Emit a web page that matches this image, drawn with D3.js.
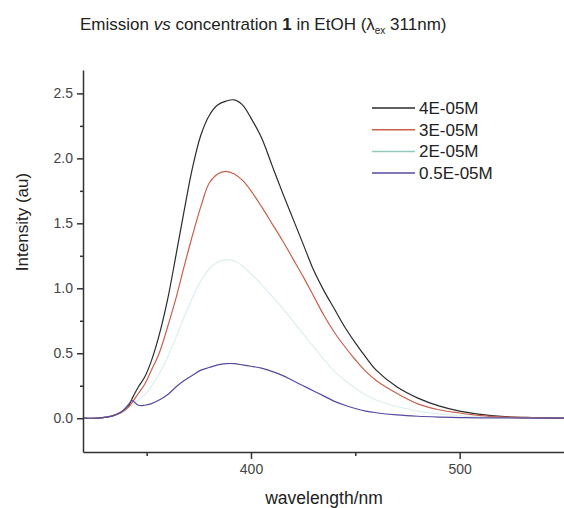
<!DOCTYPE html>
<html>
<head>
<meta charset="utf-8">
<script src="https://cdn.jsdelivr.net/npm/d3@7"></script>
<style>
  body { margin: 0; background: #fff; }
  svg { font-family: "Liberation Sans", Arial, sans-serif; }
  .axis path, .axis line { stroke: #333; stroke-width: 1.5px; }
  .axis text { fill: #444; font-size: 14px; }
  .curve { fill: none; stroke-width: 1.2px; }
</style>
</head>
<body>
<svg id="chart" width="564" height="508"></svg>
<script>
// wavelength grid (nm)
var wavelength = [320, 328, 334, 338, 341, 343, 346, 349, 352, 356, 360, 364, 368, 372, 376, 380, 384, 388, 392, 396,
  400, 405, 410, 415, 420, 425, 430, 435, 440, 445, 450, 455, 460, 470, 480, 490, 500, 510, 520, 535, 550];

var series_names = ["4E-05M", "3E-05M", "2E-05M", "0.5E-05M"];

var conc_4 = [0, 0.003, 0.02, 0.05, 0.085, 0.15, 0.24, 0.315, 0.43, 0.64, 0.91, 1.25, 1.6, 1.93, 2.18, 2.33, 2.41, 2.44, 2.45, 2.41,
  2.31, 2.16, 1.95, 1.74, 1.54, 1.34, 1.14, 0.98, 0.84, 0.70, 0.58, 0.47, 0.37, 0.24, 0.155, 0.095, 0.055, 0.03, 0.014, 0.005, 0];
var conc_3 = [0, 0.003, 0.02, 0.045, 0.08, 0.12, 0.19, 0.26, 0.36, 0.5, 0.7, 0.92, 1.17, 1.41, 1.63, 1.81, 1.88, 1.9, 1.88, 1.83,
  1.75, 1.63, 1.5, 1.37, 1.23, 1.09, 0.94, 0.79, 0.66, 0.55, 0.45, 0.36, 0.29, 0.19, 0.11, 0.065, 0.04, 0.02, 0.01, 0.004, 0];
var conc_2 = [0, 0.003, 0.02, 0.045, 0.08, 0.1, 0.14, 0.18, 0.24, 0.34, 0.47, 0.62, 0.78, 0.93, 1.06, 1.15, 1.2, 1.22, 1.21, 1.17,
  1.11, 1.03, 0.94, 0.85, 0.75, 0.65, 0.55, 0.45, 0.36, 0.29, 0.23, 0.18, 0.14, 0.09, 0.055, 0.033, 0.02, 0.01, 0.005, 0.002, 0];
var conc_05 = [0, 0.003, 0.02, 0.05, 0.1, 0.135, 0.1, 0.1, 0.11, 0.14, 0.18, 0.24, 0.29, 0.33, 0.37, 0.39, 0.41, 0.42, 0.42, 0.41,
  0.4, 0.385, 0.36, 0.33, 0.29, 0.25, 0.21, 0.17, 0.13, 0.1, 0.075, 0.055, 0.042, 0.025, 0.015, 0.009, 0.005, 0.003, 0.002, 0.001, 0];

var series_values = [conc_4, conc_3, conc_2, conc_05];
var series_colors = ["#2b2b2b", "#c8604c", "#8fcabd", "#5a48a0"];
// the 2E-05M trace is washed out in the original scan
var series_opacity = [1, 1, 0.3, 1];

var x_major = [400, 500];
var x_minor = [350, 450];
var y_major = [0, 0.5, 1.0, 1.5, 2.0, 2.5];
var y_minor = [0.25, 0.75, 1.25, 1.75, 2.25];

var svg = d3.select("#chart");

var x = d3.scaleLinear().domain([319.5, 550]).range([83, 564]);
var y = d3.scaleLinear().domain([-0.26, 2.68]).range([452, 70]);

// axes (left + bottom only, outward ticks)
svg.append("g").attr("class", "axis")
  .attr("transform", "translate(0,452)")
  .call(d3.axisBottom(x).tickValues(x_minor).tickSize(4).tickFormat(""))
  .select(".domain").remove();
svg.append("g").attr("class", "axis")
  .attr("transform", "translate(0,452)")
  .call(d3.axisBottom(x).tickValues(x_major).tickSize(7).tickPadding(5).tickSizeOuter(0).tickFormat(d3.format("d")));

svg.append("g").attr("class", "axis")
  .attr("transform", "translate(83,0)")
  .call(d3.axisLeft(y).tickValues(y_minor).tickSize(3).tickFormat(""))
  .select(".domain").remove();
svg.append("g").attr("class", "axis")
  .attr("transform", "translate(83,0)")
  .call(d3.axisLeft(y).tickValues(y_major).tickSize(6).tickPadding(4).tickSizeOuter(0).tickFormat(d3.format(".1f")));

// curves
var line = d3.line()
  .x(function(d) { return x(d[0]); })
  .y(function(d) { return y(d[1]); })
  .curve(d3.curveCatmullRom.alpha(0.5));

series_values.forEach(function(vals, i) {
  svg.append("path")
    .attr("class", "curve")
    .attr("d", line(wavelength.map(function(w, j) { return [w, vals[j]]; })))
    .style("stroke", series_colors[i])
    .style("opacity", series_opacity[i]);
});

// legend
var legend = svg.append("g").attr("transform", "translate(372,108)");
series_names.forEach(function(name, i) {
  legend.append("line")
    .attr("x1", 0).attr("x2", 43)
    .attr("y1", i * 21.7).attr("y2", i * 21.7)
    .style("stroke", series_colors[i])
    .style("stroke-width", 1.5);
  legend.append("text")
    .attr("x", 47).attr("y", i * 21.7 + 6)
    .style("font-size", "17px")
    .style("fill", "#222")
    .text(name);
});

// title
var title = svg.append("text")
  .attr("x", 80).attr("y", 30)
  .style("font-size", "17px")
  .style("fill", "#222");
title.append("tspan").text("Emission ");
title.append("tspan").style("font-style", "italic").text("vs");
title.append("tspan").text(" concentration ");
title.append("tspan").style("font-weight", "bold").text("1");
title.append("tspan").text(" in EtOH  (\u03bb");
title.append("tspan").attr("dy", 4).style("font-size", "10px").text("ex");
title.append("tspan").attr("dy", -4).text(" 311nm)");

// axis labels
svg.append("text")
  .attr("x", 324).attr("y", 504)
  .attr("text-anchor", "middle")
  .style("font-size", "17.5px")
  .style("fill", "#222")
  .text("wavelength/nm");

svg.append("text")
  .attr("transform", "translate(28,222) rotate(-90)")
  .attr("text-anchor", "middle")
  .style("font-size", "17px")
  .style("fill", "#222")
  .text("Intensity (au)");
</script>
</body>
</html>
